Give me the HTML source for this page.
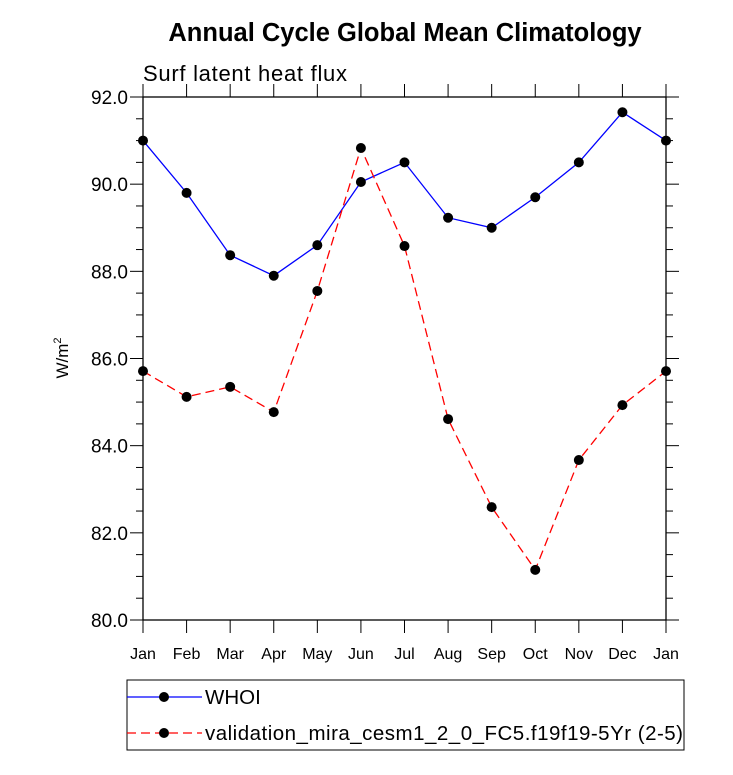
<!DOCTYPE html>
<html><head><meta charset="utf-8"><style>
body{margin:0;background:#fff;}
svg text{font-family:"Liberation Sans",Arial,sans-serif;}
</style></head><body>
<svg id="chart" width="733" height="770" xmlns="http://www.w3.org/2000/svg">
<text x="405" y="41" font-size="25.5" font-weight="bold" text-anchor="middle">Annual Cycle Global Mean Climatology</text>
<text x="143" y="81" font-size="22" textLength="204">Surf latent heat flux</text>
<text transform="translate(68,358) rotate(-90)" font-size="17" text-anchor="middle">W/m<tspan dy="-7" font-size="11">2</tspan></text>
<g id="axes"></g>
<g id="series"></g>
<g>
<rect x="127" y="680" width="557" height="70" fill="none" stroke="#000" stroke-width="1"/>
<line x1="127" y1="697" x2="202" y2="697" stroke="#00f" stroke-width="1.3"/>
<circle cx="164" cy="697" r="5" fill="#000"/>
<text x="205" y="704" font-size="20.5">WHOI</text>
<line x1="127" y1="733" x2="202" y2="733" stroke="#f00" stroke-width="1.3" stroke-dasharray="9,5"/>
<circle cx="164" cy="733" r="5" fill="#000"/>
<text x="205" y="740" font-size="20.5" textLength="478">validation_mira_cesm1_2_0_FC5.f19f19-5Yr (2-5)</text>
</g>
</svg>
<script>
const months=["Jan","Feb","Mar","Apr","May","Jun","Jul","Aug","Sep","Oct","Nov","Dec","Jan"];
const whoi=[91.0,89.8,88.37,87.9,88.6,90.05,90.5,89.23,89.0,89.7,90.5,91.65,91.0];
const model=[85.71,85.12,85.35,84.77,87.55,90.83,88.58,84.61,82.59,81.15,83.67,84.93,85.71];
const yTicks=[80,82,84,86,88,90,92];
const NS="http://www.w3.org/2000/svg";
const L=143,R=666,T=97,B=620,ymin=80,ymax=92;
const xs=i=>L+i*(R-L)/(months.length-1);
const ys=v=>B-(v-ymin)/(ymax-ymin)*(B-T);
function mk(tag,attrs,parent){const e=document.createElementNS(NS,tag);for(const k in attrs)e.setAttribute(k,attrs[k]);parent.appendChild(e);return e;}
const ax=document.getElementById('axes');
const frame=mk('rect',{x:L,y:T,width:R-L,height:B-T,fill:'none',stroke:'#000','stroke-width':1.3},ax);


for(let v=ymin;v<=ymax+1e-9;v+=0.5){
  const major=Math.abs(v-Math.round(v/2)*2)<1e-9;const len=major?13:7;const y=ys(v);
  mk('line',{x1:L-len,y1:y,x2:L,y2:y,stroke:'#000','stroke-width':1},ax);
  mk('line',{x1:R,y1:y,x2:R+len,y2:y,stroke:'#000','stroke-width':1},ax);
}
yTicks.forEach(v=>{const t=mk('text',{x:L-15,y:ys(v)+7,'font-size':19,'text-anchor':'end'},ax);t.textContent=v.toFixed(1);

});
months.forEach((m,i)=>{const x=xs(i);
  mk('line',{x1:x,y1:B,x2:x,y2:B+13,stroke:'#000','stroke-width':1},ax);
  mk('line',{x1:x,y1:T-13,x2:x,y2:T,stroke:'#000','stroke-width':1},ax);
  const t=mk('text',{x:x,y:B+39,'font-size':16,'text-anchor':'middle'},ax);t.textContent=m;
  
  });
const sg=document.getElementById('series');
function draw(vals,color,dash,name){
  const p=mk('polyline',{points:vals.map((v,i)=>xs(i)+','+ys(v)).join(' '),fill:'none',stroke:color,'stroke-width':1.3,'stroke-dasharray':dash},sg);
  
  
  vals.forEach((v,i)=>{const c=mk('circle',{cx:xs(i),cy:ys(v),r:5,fill:'#000'},sg);
    
    });
}
draw(whoi,'#00f','none','whoi');
draw(model,'#f00','9,5','model');
</script>
</body></html>
